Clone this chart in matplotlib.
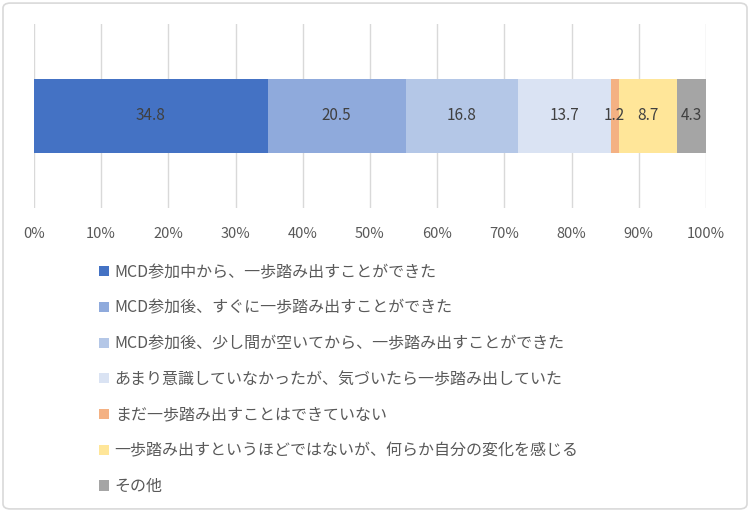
import matplotlib
matplotlib.use("Agg")
import matplotlib.pyplot as plt
from matplotlib.patches import FancyBboxPatch, Patch

plt.rcParams["font.family"] = ["Noto Sans CJK JP", "DejaVu Sans"]

categories = [
    "MCD参加中から、一歩踏み出すことができた",
    "MCD参加後、すぐに一歩踏み出すことができた",
    "MCD参加後、少し間が空いてから、一歩踏み出すことができた",
    "あまり意識していなかったが、気づいたら一歩踏み出していた",
    "まだ一歩踏み出すことはできていない",
    "一歩踏み出すというほどではないが、何らか自分の変化を感じる",
    "その他",
]
values = [34.8, 20.5, 16.8, 13.7, 1.2, 8.7, 4.3]
colors = ["#4472C4", "#8FAADC", "#B4C7E7", "#DAE3F3", "#F4B183", "#FFE699", "#A5A5A5"]
ticks = list(range(0, 101, 10))
tick_labels = [f"{t}%" for t in ticks]

fig = plt.figure(figsize=(7.5, 5.12), dpi=100)
ax = fig.add_axes([0.0453, 0.594, 0.896, 0.359])

left = 0
for v, c in zip(values, colors):
    ax.barh(0, v, left=left, height=0.4, color=c, zorder=2)
    ax.text(left + v / 2, 0, f"{v}", ha="center", va="center",
            fontsize=11, color="#404040", zorder=3)
    left += v

ax.set_xlim(0, 100)
ax.set_ylim(-0.5, 0.5)
ax.set_xticks(ticks)
ax.set_xticklabels(tick_labels, fontsize=10.5, color="#595959")
ax.set_yticks([])
ax.tick_params(axis="x", length=0, pad=14)
ax.grid(axis="x", color="#D9D9D9", linewidth=1, zorder=0)
for s in ax.spines.values():
    s.set_visible(False)

handles = [Patch(facecolor=c, edgecolor="none") for c in colors]
fig.legend(handles, categories, loc="upper left", bbox_to_anchor=(0.122, 0.5),
           frameon=False, fontsize=11.5, labelcolor="#595959",
           handlelength=0.6, handleheight=0.6, handletextpad=0.35,
           labelspacing=1.17, borderpad=0)

border = FancyBboxPatch((0.004, 0.006), 0.992, 0.988, boxstyle="round,pad=0,rounding_size=0.01",
                        transform=fig.transFigure, facecolor="none",
                        edgecolor="#D9D9D9", linewidth=1.2)
fig.patches.append(border)

fig.savefig("out.png", dpi=100)
